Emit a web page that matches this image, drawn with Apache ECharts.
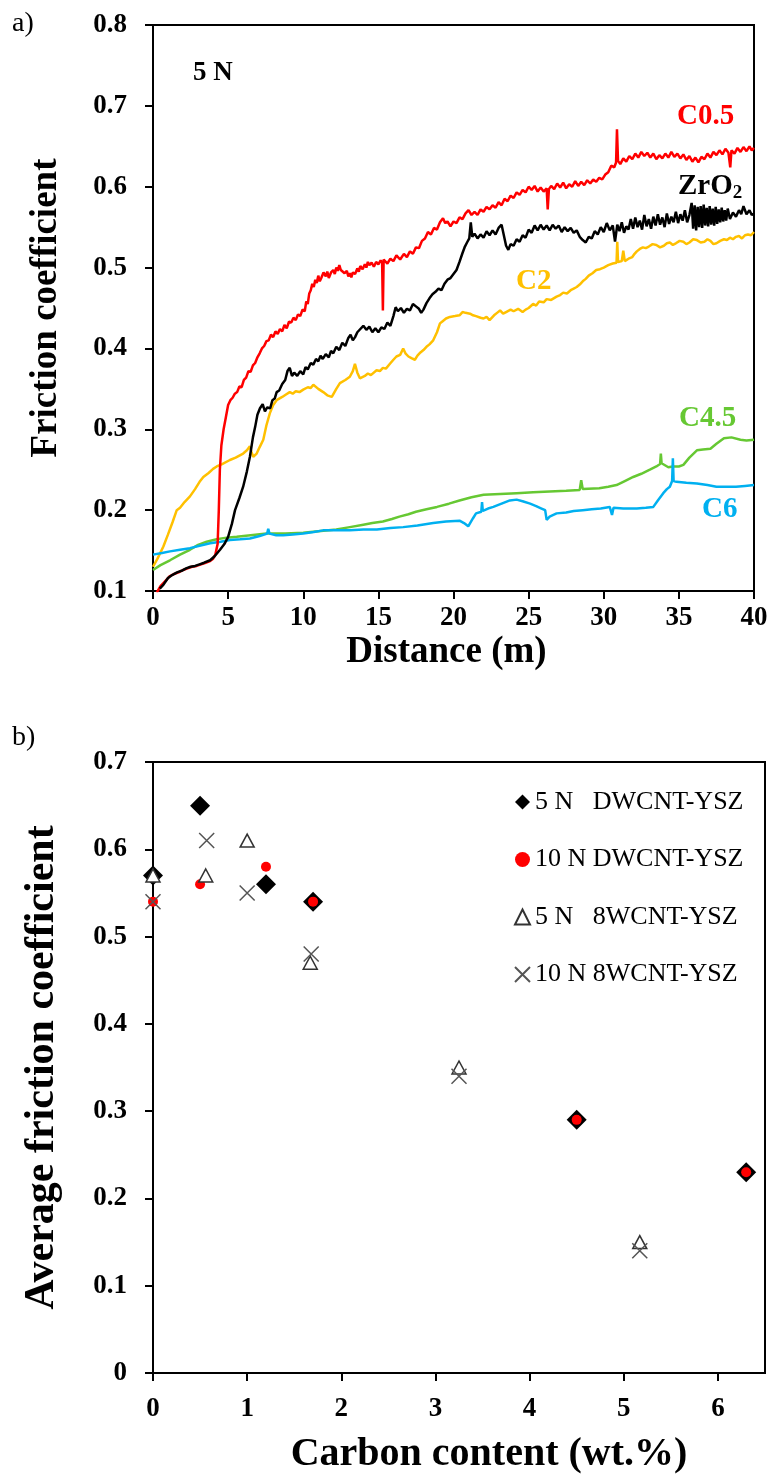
<!DOCTYPE html>
<html>
<head>
<meta charset="utf-8">
<script src="https://cdn.jsdelivr.net/npm/echarts@6/dist/echarts.min.js"></script>
<style>
html,body{margin:0;padding:0;background:#fff;}
#chart{width:773px;height:1479px;}
</style>
</head>
<body>
<div id="chart"></div>
<script>
// ---------- Panel a) friction coefficient vs distance ----------
const distTicks = [0, 5, 10, 15, 20, 25, 30, 35, 40];
const fricTicks = [0.1, 0.2, 0.3, 0.4, 0.5, 0.6, 0.7, 0.8];

const c05 = [[0.25,0.098],[0.5,0.106],[0.8,0.112],[1.1,0.118],[1.4,0.121],[1.7,0.123],[2.0,0.126],[2.3,0.128],[2.6,0.13],[2.9,0.131],[3.2,0.133],[3.5,0.135],[3.8,0.137],[4.0,0.14],[4.15,0.145],[4.3,0.158],[4.38,0.2],[4.45,0.25],[4.55,0.28],[4.7,0.3],[4.85,0.315],[5.0,0.33],[5.15,0.336],[5.3,0.339],[5.45,0.344],[5.6,0.346],[5.75,0.353],[5.9,0.352],[6.05,0.361],[6.2,0.364],[6.35,0.372],[6.5,0.371],[6.65,0.379],[6.8,0.382],[6.95,0.389],[7.1,0.394],[7.25,0.4],[7.4,0.403],[7.55,0.409],[7.7,0.41],[7.85,0.417],[8.0,0.414],[8.15,0.421],[8.3,0.418],[8.45,0.424],[8.6,0.421],[8.75,0.429],[8.9,0.425],[9.05,0.433],[9.2,0.432],[9.35,0.438],[9.5,0.435],[9.65,0.442],[9.8,0.44],[9.95,0.448],[10.1,0.446],[10.2,0.458],[10.3,0.455],[10.4,0.468],[10.5,0.472],[10.6,0.48],[10.7,0.476],[10.8,0.485],[10.9,0.481],[11.0,0.49],[11.1,0.483],[11.2,0.487],[11.35,0.494],[11.5,0.489],[11.6,0.495],[11.7,0.487],[11.85,0.494],[12.0,0.497],[12.1,0.492],[12.2,0.5],[12.3,0.496],[12.4,0.503],[12.5,0.497],[12.6,0.499],[12.75,0.493],[12.9,0.496],[13.0,0.489],[13.1,0.493],[13.2,0.488],[13.3,0.494],[13.45,0.492],[13.6,0.499],[13.7,0.495],[13.8,0.502],[13.95,0.498],[14.1,0.504],[14.2,0.5],[14.3,0.507],[14.4,0.503],[14.55,0.506],[14.7,0.501],[14.85,0.507],[15.0,0.504],[15.15,0.509],[15.25,0.506],[15.3,0.447],[15.35,0.51],[15.6,0.505],[15.8,0.511],[16.0,0.508],[16.2,0.515],[16.45,0.51],[16.7,0.517],[16.9,0.513],[17.1,0.52],[17.3,0.517],[17.5,0.525],[17.7,0.524],[17.9,0.533],[18.1,0.536],[18.3,0.544],[18.5,0.541],[18.7,0.549],[18.9,0.547],[19.1,0.556],[19.3,0.561],[19.45,0.555],[19.6,0.557],[19.8,0.551],[20.0,0.557],[20.2,0.555],[20.4,0.562],[20.6,0.56],[20.8,0.567],[21.0,0.571],[21.2,0.565],[21.4,0.569],[21.6,0.565],[21.8,0.572],[22.0,0.569],[22.2,0.575],[22.4,0.572],[22.6,0.577],[22.8,0.574],[23.0,0.581],[23.2,0.577],[23.4,0.585],[23.6,0.582],[23.8,0.589],[24.0,0.586],[24.2,0.593],[24.4,0.59],[24.6,0.596],[24.8,0.593],[25.0,0.6],[25.2,0.596],[25.4,0.601],[25.6,0.594],[25.8,0.599],[26.0,0.594],[26.2,0.598],[26.27,0.572],[26.35,0.597],[26.5,0.601],[26.7,0.597],[26.9,0.604],[27.1,0.599],[27.3,0.605],[27.5,0.598],[27.7,0.603],[27.9,0.6],[28.1,0.607],[28.3,0.601],[28.5,0.606],[28.7,0.602],[28.9,0.608],[29.1,0.604],[29.3,0.609],[29.5,0.606],[29.7,0.611],[29.9,0.609],[30.1,0.615],[30.3,0.618],[30.5,0.626],[30.7,0.624],[30.82,0.63],[30.88,0.671],[30.95,0.632],[31.1,0.628],[31.3,0.635],[31.5,0.631],[31.7,0.638],[31.9,0.634],[32.1,0.641],[32.3,0.636],[32.5,0.643],[32.7,0.638],[32.9,0.642],[33.1,0.636],[33.3,0.641],[33.5,0.634],[33.7,0.639],[33.9,0.635],[34.1,0.641],[34.3,0.636],[34.5,0.643],[34.7,0.637],[34.9,0.641],[35.1,0.635],[35.3,0.64],[35.5,0.633],[35.7,0.638],[35.9,0.631],[36.1,0.636],[36.3,0.63],[36.5,0.637],[36.7,0.634],[36.9,0.641],[37.1,0.636],[37.3,0.643],[37.5,0.639],[37.7,0.645],[37.9,0.64],[38.1,0.647],[38.3,0.642],[38.42,0.624],[38.5,0.645],[38.7,0.641],[38.9,0.648],[39.1,0.643],[39.3,0.649],[39.5,0.644],[39.7,0.65],[39.85,0.645],[40.0,0.648]];

const zro2 = [[0.45,0.103],[0.7,0.108],[1.0,0.116],[1.3,0.12],[1.6,0.123],[1.9,0.125],[2.2,0.128],[2.5,0.13],[2.8,0.131],[3.1,0.133],[3.4,0.135],[3.8,0.138],[4.1,0.143],[4.46,0.151],[4.75,0.158],[5.0,0.167],[5.25,0.183],[5.46,0.2],[5.75,0.215],[6.0,0.229],[6.25,0.248],[6.45,0.266],[6.65,0.29],[6.8,0.303],[6.95,0.318],[7.12,0.326],[7.3,0.331],[7.45,0.322],[7.6,0.327],[7.8,0.326],[7.95,0.336],[8.1,0.338],[8.23,0.346],[8.4,0.348],[8.6,0.356],[8.8,0.361],[8.95,0.372],[9.1,0.376],[9.25,0.366],[9.4,0.37],[9.6,0.366],[9.8,0.372],[10.0,0.368],[10.15,0.377],[10.3,0.374],[10.5,0.382],[10.67,0.38],[10.85,0.387],[11.0,0.384],[11.15,0.391],[11.3,0.387],[11.5,0.393],[11.7,0.389],[11.85,0.397],[12.0,0.394],[12.2,0.402],[12.4,0.398],[12.6,0.407],[12.8,0.403],[13.0,0.413],[13.15,0.417],[13.3,0.41],[13.45,0.414],[13.6,0.42],[13.8,0.424],[14.0,0.428],[14.2,0.423],[14.4,0.427],[14.6,0.42],[14.8,0.425],[15.0,0.42],[15.2,0.426],[15.4,0.424],[15.6,0.432],[15.8,0.428],[16.0,0.44],[16.15,0.451],[16.3,0.446],[16.5,0.45],[16.7,0.444],[16.9,0.449],[17.1,0.447],[17.3,0.455],[17.5,0.452],[17.7,0.449],[17.85,0.444],[18.0,0.448],[18.2,0.456],[18.4,0.462],[18.6,0.467],[18.8,0.47],[19.0,0.474],[19.2,0.472],[19.4,0.48],[19.6,0.485],[19.8,0.487],[20.0,0.492],[20.2,0.497],[20.4,0.507],[20.6,0.518],[20.76,0.526],[20.9,0.531],[21.05,0.536],[21.15,0.556],[21.25,0.538],[21.4,0.542],[21.6,0.536],[21.8,0.541],[22.0,0.537],[22.2,0.545],[22.4,0.54],[22.6,0.546],[22.8,0.541],[23.0,0.549],[23.2,0.553],[23.35,0.54],[23.5,0.527],[23.65,0.522],[23.8,0.529],[24.0,0.527],[24.2,0.535],[24.4,0.532],[24.6,0.54],[24.8,0.537],[25.0,0.547],[25.2,0.543],[25.4,0.552],[25.6,0.546],[25.8,0.553],[26.0,0.547],[26.2,0.552],[26.4,0.546],[26.6,0.553],[26.8,0.548],[27.0,0.552],[27.2,0.544],[27.4,0.55],[27.6,0.545],[27.8,0.549],[28.0,0.543],[28.2,0.546],[28.4,0.538],[28.6,0.534],[28.8,0.531],[29.0,0.538],[29.2,0.536],[29.4,0.545],[29.6,0.541],[29.8,0.55],[30.0,0.544],[30.2,0.555],[30.4,0.546],[30.6,0.552],[30.75,0.532],[30.9,0.553],[31.05,0.545],[31.2,0.556],[31.35,0.543],[31.5,0.551],[31.65,0.547],[31.8,0.56],[31.95,0.548],[32.1,0.562],[32.25,0.55],[32.4,0.558],[32.55,0.547],[32.7,0.565],[32.85,0.551],[33.0,0.56],[33.15,0.548],[33.3,0.563],[33.45,0.552],[33.6,0.566],[33.75,0.553],[33.9,0.562],[34.05,0.55],[34.2,0.567],[34.35,0.554],[34.5,0.563],[34.65,0.556],[34.8,0.569],[34.95,0.555],[35.1,0.566],[35.25,0.558],[35.4,0.571],[35.55,0.556],[35.7,0.565],[35.85,0.58],[35.95,0.548],[36.05,0.577],[36.15,0.546],[36.25,0.575],[36.35,0.55],[36.45,0.576],[36.55,0.549],[36.65,0.578],[36.75,0.552],[36.85,0.574],[36.95,0.551],[37.05,0.576],[37.15,0.553],[37.25,0.573],[37.35,0.552],[37.45,0.575],[37.55,0.554],[37.65,0.572],[37.75,0.556],[37.85,0.574],[37.95,0.557],[38.05,0.571],[38.15,0.558],[38.25,0.573],[38.4,0.56],[38.6,0.568],[38.8,0.563],[39.0,0.571],[39.15,0.566],[39.3,0.576],[39.5,0.566],[39.7,0.571],[39.85,0.565],[40.0,0.567]];

const c2 = [[0,0.13],[0.3,0.14],[0.69,0.155],[1.0,0.17],[1.3,0.185],[1.58,0.2],[1.8,0.203],[2.1,0.21],[2.46,0.217],[2.8,0.226],[3.1,0.235],[3.35,0.241],[3.7,0.246],[4.0,0.251],[4.24,0.254],[4.6,0.257],[5.12,0.262],[5.5,0.265],[6.0,0.27],[6.25,0.274],[6.45,0.279],[6.55,0.272],[6.67,0.266],[6.9,0.27],[7.1,0.278],[7.34,0.287],[7.55,0.305],[7.78,0.32],[8.0,0.33],[8.23,0.336],[8.6,0.34],[8.85,0.343],[9.1,0.346],[9.3,0.344],[9.5,0.347],[9.75,0.346],[10.0,0.349],[10.3,0.352],[10.5,0.351],[10.67,0.355],[11.0,0.35],[11.33,0.346],[11.6,0.342],[11.9,0.34],[12.2,0.35],[12.44,0.357],[12.8,0.361],[13.1,0.365],[13.3,0.372],[13.44,0.381],[13.6,0.37],[13.77,0.363],[14.1,0.366],[14.3,0.369],[14.5,0.367],[14.88,0.373],[15.1,0.372],[15.3,0.376],[15.5,0.375],[15.77,0.381],[16.0,0.386],[16.2,0.39],[16.45,0.392],[16.65,0.4],[16.8,0.394],[17.0,0.39],[17.2,0.388],[17.43,0.386],[17.6,0.391],[17.8,0.395],[18.0,0.398],[18.2,0.402],[18.4,0.405],[18.65,0.41],[18.9,0.42],[19.1,0.431],[19.3,0.434],[19.5,0.437],[19.76,0.439],[20.1,0.44],[20.4,0.441],[20.6,0.445],[20.8,0.444],[21.1,0.443],[21.3,0.441],[21.5,0.44],[21.8,0.438],[22.0,0.437],[22.2,0.439],[22.4,0.435],[22.7,0.441],[22.9,0.444],[23.1,0.447],[23.3,0.443],[23.5,0.445],[23.8,0.448],[24.0,0.446],[24.3,0.449],[24.6,0.445],[24.8,0.448],[25.0,0.45],[25.3,0.455],[25.5,0.453],[25.7,0.458],[26.0,0.457],[26.2,0.461],[26.5,0.46],[26.86,0.464],[27.1,0.466],[27.3,0.469],[27.55,0.468],[27.8,0.472],[28.0,0.474],[28.2,0.476],[28.4,0.479],[28.6,0.483],[28.8,0.486],[29.0,0.49],[29.25,0.493],[29.5,0.497],[29.75,0.498],[30.0,0.5],[30.3,0.503],[30.6,0.505],[30.85,0.506],[30.9,0.532],[30.95,0.507],[31.2,0.508],[31.3,0.521],[31.4,0.508],[31.65,0.511],[31.9,0.513],[32.05,0.517],[32.2,0.52],[32.4,0.523],[32.6,0.525],[32.8,0.524],[33.0,0.526],[33.25,0.529],[33.5,0.528],[33.75,0.525],[34.0,0.527],[34.2,0.53],[34.4,0.531],[34.6,0.528],[34.8,0.53],[35.05,0.533],[35.3,0.532],[35.5,0.529],[35.7,0.531],[35.95,0.535],[36.2,0.534],[36.45,0.531],[36.7,0.532],[36.9,0.535],[37.1,0.533],[37.3,0.529],[37.5,0.53],[37.75,0.533],[38.0,0.535],[38.2,0.534],[38.4,0.537],[38.6,0.535],[38.8,0.538],[39.0,0.539],[39.2,0.536],[39.4,0.54],[39.6,0.541],[39.8,0.54],[40.0,0.544]];

const c45 = [[0,0.126],[0.5,0.132],[1.13,0.138],[1.8,0.145],[2.46,0.151],[3.0,0.157],[3.57,0.161],[4.24,0.164],[4.9,0.166],[5.57,0.167],[6.5,0.169],[7.56,0.171],[8.8,0.171],[10.0,0.172],[11.0,0.174],[12.2,0.176],[13.1,0.179],[14.0,0.182],[14.6,0.184],[15.3,0.186],[15.9,0.189],[16.4,0.192],[17.0,0.195],[17.5,0.198],[18.2,0.201],[18.9,0.204],[19.7,0.208],[20.4,0.212],[21.2,0.216],[22.0,0.219],[23.1,0.22],[24.2,0.221],[25.3,0.222],[26.4,0.223],[27.5,0.224],[28.4,0.225],[28.5,0.237],[28.6,0.226],[29.7,0.227],[30.3,0.229],[30.85,0.231],[31.4,0.236],[31.96,0.241],[32.5,0.245],[33.07,0.25],[33.5,0.254],[33.75,0.257],[33.8,0.27],[33.85,0.258],[33.96,0.256],[34.3,0.253],[34.6,0.254],[35.0,0.254],[35.3,0.256],[35.7,0.265],[36.2,0.274],[36.6,0.275],[37.1,0.276],[37.5,0.282],[38.0,0.289],[38.5,0.29],[39.1,0.287],[39.5,0.286],[40.0,0.287]];

const c6 = [[0,0.145],[0.6,0.147],[1.13,0.149],[1.8,0.151],[2.46,0.153],[3.1,0.156],[3.8,0.159],[4.5,0.161],[5.12,0.163],[5.8,0.164],[6.45,0.165],[7.1,0.168],[7.6,0.171],[7.67,0.177],[7.75,0.171],[8.2,0.169],[8.67,0.169],[9.3,0.17],[10.0,0.171],[10.7,0.173],[11.33,0.175],[12.2,0.175],[13.1,0.175],[14.0,0.176],[14.9,0.176],[15.8,0.178],[16.65,0.179],[17.6,0.181],[18.65,0.184],[19.5,0.186],[20.4,0.187],[20.7,0.184],[20.98,0.18],[21.3,0.19],[21.5,0.196],[21.85,0.198],[21.9,0.21],[21.95,0.199],[22.3,0.202],[22.65,0.204],[23.2,0.208],[23.75,0.212],[24.2,0.213],[24.6,0.211],[25.1,0.208],[25.5,0.205],[25.86,0.202],[26.1,0.2],[26.2,0.188],[26.4,0.192],[26.86,0.196],[27.5,0.197],[28.0,0.199],[28.6,0.2],[29.2,0.201],[29.8,0.202],[30.4,0.204],[30.55,0.194],[30.65,0.203],[31.3,0.202],[32.2,0.202],[32.8,0.203],[33.3,0.204],[33.6,0.212],[33.96,0.221],[34.2,0.226],[34.4,0.229],[34.55,0.236],[34.6,0.264],[34.65,0.236],[34.84,0.235],[35.5,0.234],[36.2,0.233],[36.9,0.231],[37.5,0.229],[38.2,0.229],[38.8,0.229],[39.4,0.23],[40.0,0.231]];

// ---------- Panel b) average friction coefficient vs carbon content ----------
const carbonTicks = [0, 1, 2, 3, 4, 5, 6];
const avgTicks = [0, 0.1, 0.2, 0.3, 0.4, 0.5, 0.6, 0.7];
const dw5N  = [[0,0.57],[0.5,0.65],[1.2,0.56],[1.7,0.54],[4.5,0.29],[6.3,0.23]];
const dw10N = [[0,0.54],[0.5,0.56],[1.2,0.58],[1.7,0.54],[4.5,0.29],[6.3,0.23]];
const mw5N  = [[0,0.57],[0.56,0.57],[1.0,0.61],[1.67,0.47],[3.25,0.35],[5.17,0.15]];
const mw10N = [[0,0.54],[0.57,0.61],[1.0,0.55],[1.68,0.48],[3.25,0.34],[5.17,0.14]];
const legendNames = ['5 N   DWCNT-YSZ', '10 N DWCNT-YSZ', '5 N   8WCNT-YSZ', '10 N 8WCNT-YSZ'];

const SERIF = '"Liberation Serif", "Times New Roman", serif';
const axisLineStyle = { color: '#000', width: 2 };
const tickFont = { fontFamily: SERIF, fontWeight: 'bold', fontSize: 27, color: '#000' };

function valAxis(opts) {
  return Object.assign({
    type: 'value',
    splitLine: { show: false },
    axisLine: { show: true, onZero: false, lineStyle: axisLineStyle },
    axisTick: { show: true, inside: false, length: 8, lineStyle: axisLineStyle },
    nameLocation: 'middle'
  }, opts);
}

const chart = echarts.init(document.getElementById('chart'), null, { renderer: 'canvas' });

const option = {
  backgroundColor: '#fff',
  animation: false,
  grid: [
    { left: 153, top: 25, width: 601, height: 566, show: true, borderColor: '#000', borderWidth: 2, backgroundColor: 'transparent' },
    { left: 153, top: 762, width: 612, height: 611, show: true, borderColor: '#000', borderWidth: 2, backgroundColor: 'transparent' }
  ],
  xAxis: [
    valAxis({ gridIndex: 0, min: distTicks[0], max: distTicks[distTicks.length - 1], interval: 5,
      name: 'Distance (m)', nameGap: 43,
      nameTextStyle: { fontFamily: SERIF, fontWeight: 'bold', fontSize: 37, color: '#000', padding: [0, 14, 0, 0] },
      axisLabel: Object.assign({ margin: 14 }, tickFont) }),
    valAxis({ gridIndex: 1, min: 0, max: 6.5, interval: 1,
      name: 'Carbon content (wt.%)', nameGap: 62,
      nameTextStyle: { fontFamily: SERIF, fontWeight: 'bold', fontSize: 40, color: '#000', padding: [0, 0, 0, 60] },
      axisTick: { show: true, inside: false, length: 8, lineStyle: axisLineStyle, customValues: carbonTicks },
      axisLabel: Object.assign({ margin: 23, customValues: carbonTicks }, tickFont) })
  ],
  yAxis: [
    valAxis({ gridIndex: 0, min: fricTicks[0], max: fricTicks[fricTicks.length - 1], interval: 0.1,
      name: 'Friction coefficient', nameGap: 88, nameRotate: 90,
      nameTextStyle: { fontFamily: SERIF, fontWeight: 'bold', fontSize: 37, color: '#000' },
      axisLabel: Object.assign({ margin: 26, formatter: v => v.toFixed(1) }, tickFont) }),
    valAxis({ gridIndex: 1, min: avgTicks[0], max: avgTicks[avgTicks.length - 1], interval: 0.1,
      name: 'Average friction coefficient', nameGap: 90, nameRotate: 90,
      nameTextStyle: { fontFamily: SERIF, fontWeight: 'bold', fontSize: 42, color: '#000' },
      axisLabel: Object.assign({ margin: 26, formatter: v => (v === 0 ? '0' : v.toFixed(1)) }, tickFont) })
  ],
  legend: {
    orient: 'vertical', left: 509, top: 784, itemWidth: 15, itemHeight: 15, itemGap: 31.5,
    data: legendNames,
    textStyle: { fontFamily: SERIF, fontSize: 26, color: '#000', lineHeight: 26 }
  },
  series: [
    { name: 'C0.5', type: 'line', xAxisIndex: 0, yAxisIndex: 0, data: c05, showSymbol: false, lineStyle: { color: '#ff0000', width: 2.5 }, z: 4 },
    { name: 'ZrO2', type: 'line', xAxisIndex: 0, yAxisIndex: 0, data: zro2, showSymbol: false, lineStyle: { color: '#000000', width: 2.5 }, z: 5 },
    { name: 'C2', type: 'line', xAxisIndex: 0, yAxisIndex: 0, data: c2, showSymbol: false, lineStyle: { color: '#ffc000', width: 2.5 }, z: 3 },
    { name: 'C4.5', type: 'line', xAxisIndex: 0, yAxisIndex: 0, data: c45, showSymbol: false, lineStyle: { color: '#66c833', width: 2.5 }, z: 2 },
    { name: 'C6', type: 'line', xAxisIndex: 0, yAxisIndex: 0, data: c6, showSymbol: false, lineStyle: { color: '#00b0f0', width: 2.5 }, z: 3 },
    { name: legendNames[0], type: 'scatter', xAxisIndex: 1, yAxisIndex: 1, data: dw5N, symbol: 'diamond', symbolSize: 20,
      itemStyle: { color: '#000', opacity: 1 }, z: 2 },
    { name: legendNames[1], type: 'scatter', xAxisIndex: 1, yAxisIndex: 1, data: dw10N, symbol: 'circle', symbolSize: 10,
      itemStyle: { color: '#ff0000', opacity: 1 }, z: 3 },
    { name: legendNames[2], type: 'scatter', xAxisIndex: 1, yAxisIndex: 1, data: mw5N, symbol: 'triangle', symbolSize: [14, 13],
      itemStyle: { color: '#fff', borderColor: '#333', borderWidth: 1.5, opacity: 1 }, z: 4 },
    { name: legendNames[3], type: 'scatter', xAxisIndex: 1, yAxisIndex: 1, data: mw10N, symbol: 'path://M0,0L10,10M10,0L0,10', symbolSize: 15,
      itemStyle: { color: 'rgba(0,0,0,0)', borderColor: '#555', borderWidth: 1.5, opacity: 1 }, z: 5 }
  ],
  graphic: [
    { type: 'text', left: 12, top: 10, style: { text: 'a)', font: '28px ' + SERIF, fill: '#000' } },
    { type: 'text', left: 12, top: 724, style: { text: 'b)', font: '28px ' + SERIF, fill: '#000' } },
    { type: 'text', left: 193, top: 60, style: { text: '5 N', font: 'bold 27px ' + SERIF, fill: '#000' } },
    { type: 'text', left: 677, top: 102, style: { text: 'C0.5', font: 'bold 29px ' + SERIF, fill: '#ff0000' } },
    { type: 'text', left: 678, top: 172, style: { text: '{a|ZrO}{b|2}', rich: {
        a: { font: 'bold 29px ' + SERIF, fill: '#000' },
        b: { font: 'bold 19px ' + SERIF, fill: '#000', padding: [13, 0, 0, 0] } } } },
    { type: 'text', left: 516, top: 267, style: { text: 'C2', font: 'bold 29px ' + SERIF, fill: '#ffc000' } },
    { type: 'text', left: 679, top: 404, style: { text: 'C4.5', font: 'bold 29px ' + SERIF, fill: '#66c833' } },
    { type: 'text', left: 702, top: 495, style: { text: 'C6', font: 'bold 29px ' + SERIF, fill: '#00b0f0' } }
  ]
};
chart.setOption(option);
</script>
</body>
</html>
